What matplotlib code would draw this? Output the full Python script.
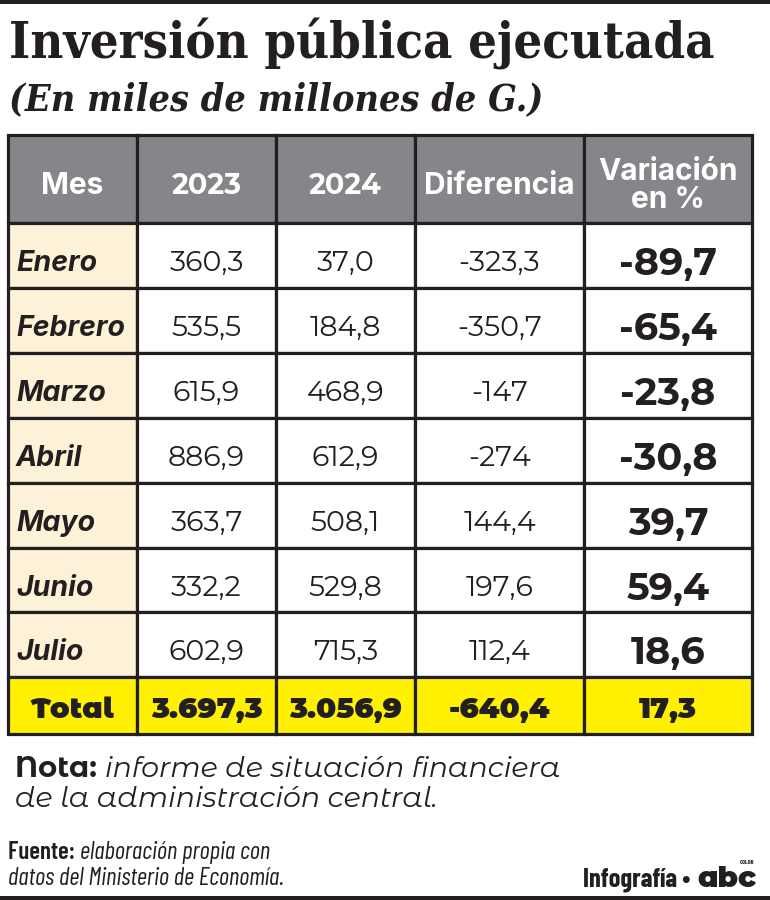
import matplotlib
matplotlib.use('Agg')
import matplotlib.pyplot as plt
from matplotlib.patches import Rectangle

# datos
meses = ['Enero', 'Febrero', 'Marzo', 'Abril', 'Mayo', 'Junio', 'Julio']
inv_2023 = [360.3, 535.5, 615.9, 886.9, 363.7, 332.2, 602.9]
inv_2024 = [37.0, 184.8, 468.9, 612.9, 508.1, 529.8, 715.3]
diferencia = [-323.3, -350.7, -147, -274, 144.4, 197.6, 112.4]
variacion = [-89.7, -65.4, -23.8, -30.8, 39.7, 59.4, 18.6]
totales = [3697.3, 3056.9, -640.4, 17.3]
encabezados = ['Mes', '2023', '2024', 'Diferencia', 'Variación\nen %']

# fuentes
MONT = ['Montserrat Alternates', 'Lato', 'DejaVu Sans']
SANS = ['Inter', 'Lato', 'DejaVu Sans']
COND = ['Barlow Condensed', 'Roboto', 'DejaVu Sans']
SERIF = ['DejaVu Serif']

OSCURO = '#231f20'
GRIS = '#868589'
CREMA = '#fdf2d8'
AMARILLO = '#fff100'


def fmt(v):
    # formato con coma decimal y punto de miles
    if isinstance(v, int):
        s = f'{v:,}'
    else:
        s = f'{v:,.1f}'
    return s.replace(',', '_').replace('.', ',').replace('_', '.')


def x_after(t):
    fig.canvas.draw()
    bb = t.get_window_extent()
    return ax.transData.inverted().transform((bb.x1, 0))[0]


fig = plt.figure(figsize=(7.7, 9), dpi=100)
ax = fig.add_axes([0, 0, 1, 1])
ax.set_xlim(0, 770)
ax.set_ylim(900, 0)
ax.axis('off')

# lineas negras arriba y abajo
ax.add_patch(Rectangle((0, 0), 770, 3.5, color=OSCURO, lw=0))
ax.add_patch(Rectangle((0, 896), 770, 4, color=OSCURO, lw=0))

# titulo
ax.text(9, 59, 'Inversión pública ejecutada', family=SERIF, fontstretch='condensed',
        weight='bold', fontsize=36.4, color=OSCURO, va='baseline')
ax.text(9, 110, '(En miles de millones de G.)', family=SERIF, fontstretch='condensed',
        weight='bold', style='italic', fontsize=27, color=OSCURO, va='baseline')

# geometria de la tabla
col_x = [8, 137, 276, 415, 584, 752]
top = 135
head_h = 88
row_h = 64.9
rows_y = [top + head_h + i * row_h for i in range(len(meses) + 1)]
bottom = rows_y[-1] + 57
lw = 2.3

# encabezado
for j, h in enumerate(encabezados):
    x0, x1 = col_x[j], col_x[j + 1]
    ax.add_patch(Rectangle((x0, top), x1 - x0, head_h, facecolor=GRIS, edgecolor=OSCURO, lw=lw))
    cx = (x0 + x1) / 2
    if h.isdigit():
        fam, fs = MONT, 20.5
    else:
        fam, fs = SANS, 21.5
    if '\n' in h:
        l1, l2 = h.split('\n')
        ax.text(cx, 180, l1, ha='center', va='baseline', family=fam, weight='bold', fontsize=fs, color='white')
        ax.text(cx, 208, l2, ha='center', va='baseline', family=fam, weight='bold', fontsize=fs, color='white')
    else:
        ax.text(cx, 194, h, ha='center', va='baseline', family=fam, weight='bold', fontsize=fs, color='white')

# filas
for i, mes in enumerate(meses):
    y0 = rows_y[i]
    valores = [inv_2023[i], inv_2024[i], diferencia[i], variacion[i]]
    for j in range(5):
        x0, x1 = col_x[j], col_x[j + 1]
        fc = CREMA if j == 0 else 'white'
        ax.add_patch(Rectangle((x0, y0), x1 - x0, row_h, facecolor=fc, edgecolor=OSCURO, lw=lw))
    ax.text(col_x[0] + 8, y0 + 48, mes, ha='left', va='baseline', family=SANS, weight='bold',
            style='italic', fontsize=20.5, color=OSCURO)
    for j, v in enumerate(valores[:3]):
        cx = (col_x[j + 1] + col_x[j + 2]) / 2
        ax.text(cx, y0 + 48, fmt(v), ha='center', va='baseline', family=MONT, weight='normal',
                fontsize=20.5, color=OSCURO)
    cx = (col_x[4] + col_x[5]) / 2
    ax.text(cx, y0 + 52, fmt(valores[3]), ha='center', va='baseline', family=MONT, weight='bold',
            fontsize=27.5, color=OSCURO)

# fila total
y0 = rows_y[-1]
for j in range(5):
    x0, x1 = col_x[j], col_x[j + 1]
    ax.add_patch(Rectangle((x0, y0), x1 - x0, bottom - y0, facecolor=AMARILLO, edgecolor=OSCURO, lw=lw))
ax.text((col_x[0] + col_x[1]) / 2, y0 + 41, 'Total', ha='center', va='baseline', family=MONT,
        weight='black', fontsize=21, color=OSCURO)
for j, v in enumerate(totales):
    cx = (col_x[j + 1] + col_x[j + 2]) / 2
    ax.text(cx, y0 + 41, fmt(v), ha='center', va='baseline', family=MONT, weight='black',
            fontsize=21, color=OSCURO)

# nota
t = ax.text(15, 777, 'Nota: ', va='baseline', family=MONT, weight='bold', fontsize=21, color=OSCURO)
ax.text(x_after(t), 777, 'informe de situación financiera', va='baseline', family=MONT,
        weight='normal', style='italic', fontsize=20.5, color=OSCURO)
ax.text(15, 807, 'de la administración central.', va='baseline', family=MONT, weight='normal',
        style='italic', fontsize=20.5, color=OSCURO)

# fuente
t = ax.text(8, 859, 'Fuente: ', va='baseline', family=COND, weight='semibold', fontsize=18, color=OSCURO)
ax.text(x_after(t), 859, 'elaboración propia con', va='baseline', family=COND, style='italic',
        fontsize=18, color=OSCURO)
ax.text(8, 885, 'datos del Ministerio de Economía.', va='baseline', family=COND, style='italic',
        fontsize=18, color=OSCURO)

# firma
ax.text(690, 887, 'Infografía •', ha='right', va='baseline', family=COND, weight='bold',
        fontsize=19, color=OSCURO)
ax.text(697, 887, 'abc', ha='left', va='baseline', family=MONT, weight='black',
        fontsize=21, color=OSCURO)
ax.text(754, 864, 'COLOR', ha='right', va='baseline', family=COND, weight='bold',
        fontsize=4.5, color=OSCURO)

fig.savefig('out.png', dpi=100)
